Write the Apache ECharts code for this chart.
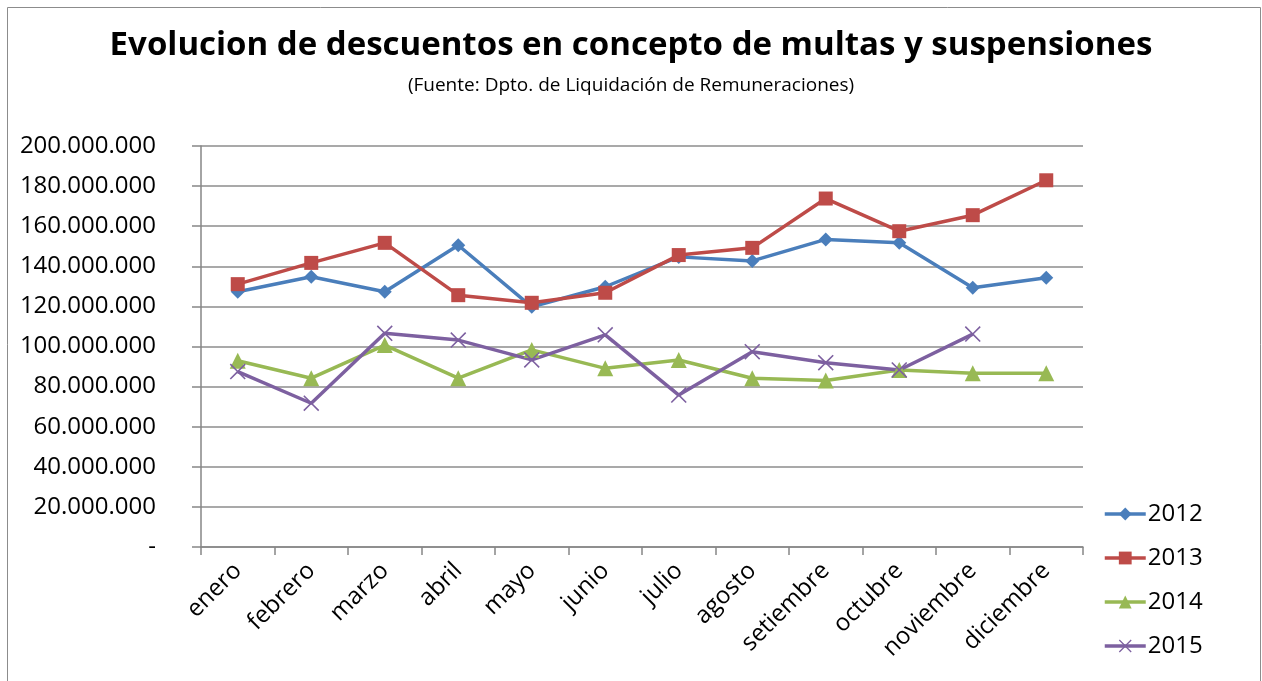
<!DOCTYPE html>
<html><head><meta charset="utf-8">
<script src="https://cdn.jsdelivr.net/npm/echarts@6/dist/echarts.min.js"></script>
<style>html,body{margin:0;padding:0;background:#fff}#c{width:1262px;height:681px}</style>
</head><body><div id="c"></div>
<script>
const categories = ['enero','febrero','marzo','abril','mayo','junio','julio','agosto','setiembre','octubre','noviembre','diciembre'];
const s2012 = [127.3,134.8,127.3,150.5,119.8,129.8,144.7,142.7,153.4,151.7,129.3,134.3];
const s2013 = [131.1,141.7,151.7,125.6,121.8,126.8,145.6,149.2,173.8,157.5,165.5,182.9];
const s2014 = [92.9,84.2,100.7,84.2,98.3,89.1,93.3,84.2,83.0,88.3,86.7,86.7];
const s2015 = [87.5,71.7,106.6,103.2,93.3,105.8,75.8,97.4,91.9,88.3,106.2,null];
const yTicks = [0,20,40,60,80,100,120,140,160,180,200];

const FONT = 'Open Sans';
function fmt(v){ if(v===0) return '-'; const n=Math.round(v); return n.toString().replace(/\B(?=(\d{3})+(?!\d))/g,'.'); }
const xSym = 'path://M0,0.7L0.7,0L5,4.3L9.3,0L10,0.7L5.7,5L10,9.3L9.3,10L5,5.7L0.7,10L0,9.3L4.3,5Z';

function mk(name, data, color, symbol, size){
  return {name, type:'line', data: data.map(v=>v===null?null:v*1e6), symbol, symbolSize:size,
    lineStyle:{color, width:3.5}, itemStyle:{color}, connectNulls:false, animation:false};
}
const chart = echarts.init(document.getElementById('c'), null, {renderer:'canvas'});
chart.setOption({
  backgroundColor:'#fff',
  animation:false,
  title:{text:'Evolucion de descuentos en concepto de multas y suspensiones',
    subtext:'(Fuente: Dpto. de Liquidación de Remuneraciones)',
    left:'center', top:24, itemGap:14,
    textStyle:{fontFamily:FONT, fontWeight:'bold', fontSize:33, color:'#000'},
    subtextStyle:{fontFamily:FONT, fontSize:19, color:'#000'}},
  grid:{left:201, right:179, top:146, bottom:134, containLabel:false, outerBoundsMode:'none'},
  legend:{orient:'vertical', left:1098, top:497, itemGap:20, itemWidth:41, itemHeight:16,
    lineStyle:{width:3.5},
    textStyle:{fontFamily:FONT, fontSize:24, color:'#000', padding:[0,0,0,-3]},
    data:['2012','2013','2014','2015']},
  xAxis:{type:'category', data:categories, boundaryGap:true,
    axisLine:{lineStyle:{color:'#868686', width:1.5}},
    axisTick:{show:true, length:8, alignWithLabel:false, lineStyle:{color:'#868686', width:1.5}},
    axisLabel:{rotate:45, fontFamily:FONT, fontSize:24, color:'#000', margin:20, interval:0}},
  yAxis:{type:'value', min:0, max:200e6, interval:20e6,
    axisLine:{show:true, lineStyle:{color:'#868686', width:1.5}},
    axisTick:{show:true, length:9, lineStyle:{color:'#868686', width:1.5}},
    splitLine:{lineStyle:{color:'#8c8c8c', width:1.5}},
    axisLabel:{fontFamily:FONT, fontSize:24, color:'#000', margin:45, formatter:fmt}},
  series:[
    mk('2012', s2012, '#4A7EBB', 'diamond', 14),
    mk('2013', s2013, '#BE4B48', 'rect', 14),
    mk('2014', s2014, '#98B954', 'triangle', 16),
    mk('2015', s2015, '#7D60A0', xSym, 16)
  ],
  graphic:[{type:'rect', shape:{x:7.5,y:7.5,width:1253,height:680}, style:{fill:'none', stroke:'#8c8c8c', lineWidth:1}, silent:true}]
});
</script></body></html>
